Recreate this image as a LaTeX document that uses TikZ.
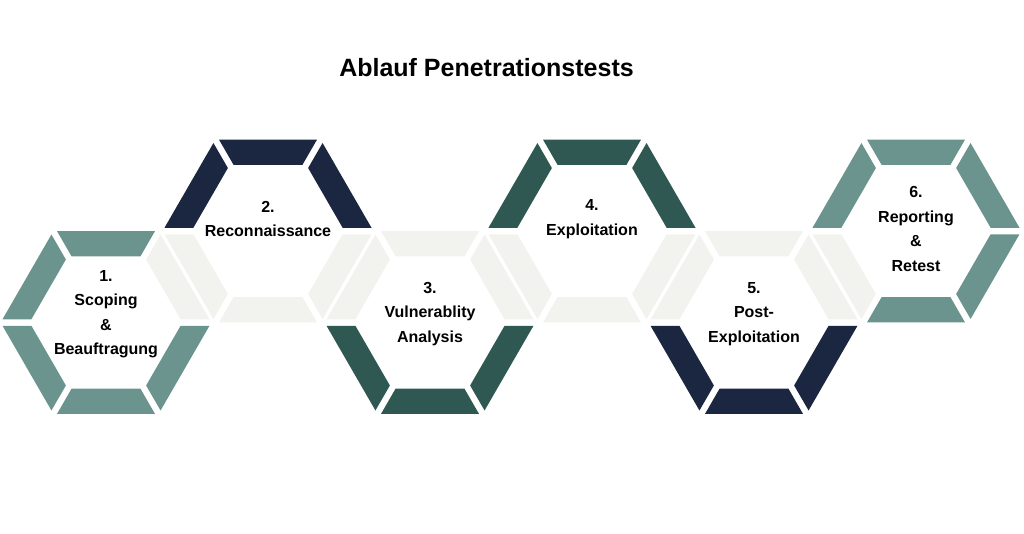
\documentclass[tikz,border=0pt]{standalone}
\usepackage{fontspec}
\setmainfont{Liberation Sans}
\usepackage{tikz}
\usetikzlibrary{calc}

\definecolor{tealseg}{RGB}{108,148,142}
\definecolor{navyseg}{RGB}{27,38,64}
\definecolor{greenseg}{RGB}{47,88,82}
\definecolor{paleseg}{RGB}{242,243,238}

\def\hexout{103.5}
\def\hexin{74.6}
\def\hexgap{3.25}
% one ring of six sides, colours from the right vertex counter-clockwise
\newcommand{\hexring}[7]{%
  \foreach \a/\c in {0/#2,60/#3,120/#4,180/#5,240/#6,300/#7} {
    \fill[\c] ($(#1)+(\a:\hexout)+(\a+90:\hexgap)$) -- ($(#1)+(\a+60:\hexout)+(\a-30:\hexgap)$)
      -- ($(#1)+(\a+60:\hexin)+(\a-30:\hexgap)$) -- ($(#1)+(\a:\hexin)+(\a+90:\hexgap)$) -- cycle;
  }
}

\begin{document}
\begin{tikzpicture}[x=1pt,y=1pt,
    steplabel/.style={align=center, inner sep=0pt, font=\fontsize{16}{24.5}\selectfont\bfseries},
    heading/.style={inner sep=0pt, font=\fontsize{25}{30}\selectfont\bfseries}]
    \useasboundingbox (0,0) rectangle (1024,-533);

    \coordinate (h1) at (106,-322.5);
    \coordinate (h2) at (268,-231);
    \coordinate (h3) at (430,-322.5);
    \coordinate (h4) at (592,-231);
    \coordinate (h5) at (754,-322.5);
    \coordinate (h6) at (916,-231);

    \hexring{h1}{paleseg}{tealseg}{tealseg}{tealseg}{tealseg}{tealseg}
    \hexring{h2}{navyseg}{navyseg}{navyseg}{paleseg}{paleseg}{paleseg}
    \hexring{h3}{paleseg}{paleseg}{paleseg}{greenseg}{greenseg}{greenseg}
    \hexring{h4}{greenseg}{greenseg}{greenseg}{paleseg}{paleseg}{paleseg}
    \hexring{h5}{paleseg}{paleseg}{paleseg}{navyseg}{navyseg}{navyseg}
    \hexring{h6}{tealseg}{tealseg}{tealseg}{paleseg}{tealseg}{tealseg}

    \node[heading] (title) at (486.5,-67.5) {Ablauf Penetrationstests};

    \node[steplabel] (scoping) at (106,-314) {1.\\Scoping\\\&\\Beauftragung};
    \node[steplabel] (recon) at (268,-219) {2.\\Reconnaissance};
    \node[steplabel] (vuln) at (430,-314) {3.\\Vulnerablity\\Analysis};
    \node[steplabel] (exploit) at (592,-219) {4.\\Exploitation};
    \node[steplabel] (post) at (754,-314) {5.\\Post-\\Exploitation};
    \node[steplabel] (report) at (916,-229) {6.\\Reporting\\\&\\Retest};
  \end{tikzpicture}
\end{document}
